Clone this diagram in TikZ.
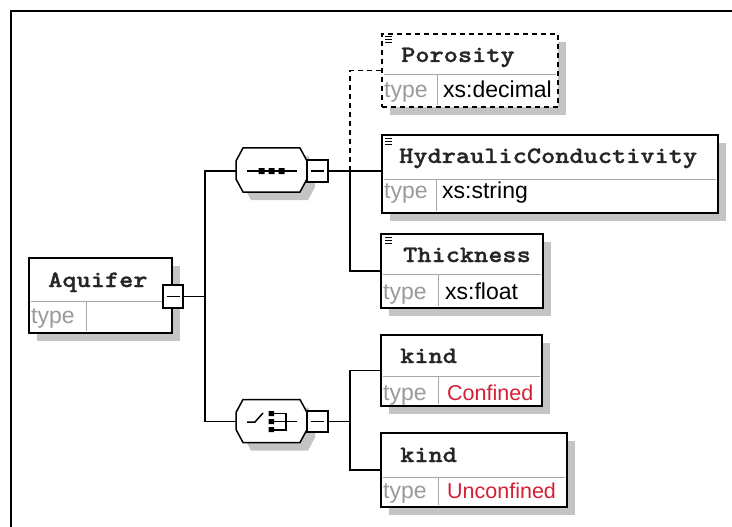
\documentclass[tikz,border=0pt]{standalone}
\usepackage{fontspec}
\setmainfont{Liberation Sans}
\newfontfamily\monof{lmmonolt10-bold.otf}[FakeStretch=1.15, FakeBold=1.2]
\usetikzlibrary{shadows}
\definecolor{shadowc}{HTML}{C4C4C4}
\definecolor{typec}{HTML}{9A9A9A}
\definecolor{divc}{HTML}{A8A8A8}
\definecolor{redc}{HTML}{D42036}
\tikzset{
 elem/.style={draw, line width=2.2pt, fill=white, inner sep=0pt, drop shadow={shadow xshift=8pt, shadow yshift=-8pt, opacity=1, fill=shadowc}},
 optelem/.style={elem, dash pattern=on 5pt off 4pt},
 hdr/.style={anchor=base west, inner sep=0pt, font=\monof\fontsize{23.5}{26}\selectfont, text=black!85},
 typ/.style={anchor=base west, inner sep=0pt, font=\fontsize{23}{25}\selectfont, text=typec},
 val/.style={typ, text=black},
 rval/.style={typ, font=\fontsize{21.5}{24}\selectfont, text=redc},
 divl/.style={draw=divc, line width=1pt},
 conn/.style={line width=1.7pt},
 minus/.style={draw, line width=1.5pt, fill=white, inner sep=0pt},
 comp/.style={draw=none, inner sep=0pt, minimum width=71pt, minimum height=44pt},
 iconl/.style={line width=0.8pt},
 octo/.style={line width=1.5pt, fill=white},
}
\begin{document}
\begin{tikzpicture}[x=1pt,y=-1pt]
\useasboundingbox (0,0) rectangle (732,527);
\fill[white] (0,0) rectangle (732,527);
% frame
\draw[line width=2.5pt] (11,530) -- (11,11) -- (735,11);

% ---------- element boxes ----------
\node[elem, minimum width=143pt, minimum height=75pt] (aq) at (100.5,295.5) {};
\node[optelem, minimum width=176pt, minimum height=73pt] (por) at (470,70.5) {};
\node[elem, minimum width=336pt, minimum height=78pt] (hyd) at (550,174) {};
\node[elem, minimum width=162pt, minimum height=74pt] (thk) at (462,271) {};
\node[elem, minimum width=161pt, minimum height=71pt] (kinda) at (461.5,370.5) {};
\node[elem, minimum width=186pt, minimum height=74pt] (kindb) at (474,470) {};

% dividers
\draw[divl] (31,301) -- (170,301) (86,301) -- (86,331);
\draw[divl] (384,75) -- (556,75) (437,75) -- (437,105);
\draw[divl] (384,179) -- (716,179) (436,179) -- (436,211);
\draw[divl] (383,274) -- (541,274) (438,274) -- (438,306);
\draw[divl] (383,376) -- (540,376) (438,376) -- (438,404);
\draw[divl] (383,477) -- (565,477) (438,477) -- (438,505);

% icons
\draw[iconl] (385,36.5) -- ++(7,0) (385,39.5) -- ++(7,0) (385,42.5) -- ++(7,0);
\draw[iconl] (385,138.5) -- ++(7,0) (385,141.5) -- ++(7,0) (385,144.5) -- ++(7,0);
\draw[iconl] (385,237.5) -- ++(7,0) (385,240.5) -- ++(7,0) (385,243.5) -- ++(7,0);

% texts
\node[hdr] (aqh) at (48,287) {Aquifer};
\node[typ] (aqt) at (31,323) {type};
\node[hdr] (porh) at (401,62) {Porosity};
\node[typ] (port) at (384,97.5) {type};
\node[val] (porv) at (443,97.5) {xs:decimal};
\node[hdr] (hydh) at (399,163) {HydraulicConductivity};
\node[typ] (hydt) at (384,198) {type};
\node[val] (hydv) at (442,198) {xs:string};
\node[hdr] (thkh) at (403,262) {Thickness};
\node[typ] (thkt) at (383,299) {type};
\node[val] (thkv) at (445,299) {xs:float};
\node[hdr] (kindah) at (400,363) {kind};
\node[typ] (kindat) at (383,400) {type};
\node[rval] (kindav) at (447,400) {Confined};
\node[hdr] (kindbh) at (400,462) {kind};
\node[typ] (kindbt) at (383,498.5) {type};
\node[rval] (kindbv) at (447,498.5) {Unconfined};

% ---------- compositors ----------
\node[comp] (seq) at (271.5,170) {};
\node[comp] (cho) at (271.5,421.5) {};
\fill[shadowc, shift={(244,156)}] (0,13) -- (7,0) -- (64,0) -- (71,13) -- (71,31) -- (64,44) -- (7,44) -- (0,31) -- cycle;
\draw[octo, shift={(236,148)}] (0,13) -- (7,0) -- (64,0) -- (71,13) -- (71,31) -- (64,44) -- (7,44) -- (0,31) -- cycle;
\fill[shadowc, shift={(244,407.5)}] (0,13) -- (7,0) -- (64,0) -- (71,13) -- (71,30) -- (64,43) -- (7,43) -- (0,30) -- cycle;
\draw[octo, shift={(236,399.5)}] (0,13) -- (7,0) -- (64,0) -- (71,13) -- (71,30) -- (64,43) -- (7,43) -- (0,30) -- cycle;
% sequence symbol
\draw[line width=1.5pt] (247,171) -- (297,171);
\fill (258.5,168) rectangle ++(6,6) (268.5,168) rectangle ++(6,6) (278.5,168) rectangle ++(6,6);
% choice symbol
\draw[line width=1.5pt] (247,422) -- (255,422) -- (263,413);
\fill (268.5,411) rectangle ++(5.5,5) (268.5,419) rectangle ++(5.5,5) (268.5,427) rectangle ++(5.5,5);
\draw[line width=1.5pt] (274,413.5) -- (286,413.5) -- (286,430) -- (274,430) (274,421.5) -- (297,421.5);

% minus boxes
\node[minus, minimum width=20pt, minimum height=23pt] (aqm) at (173,296.5) {};
\draw[line width=1.2pt] (166.5,296.5) -- (179.5,296.5);
\node[minus, minimum width=21pt, minimum height=22pt] (seqm) at (317.5,171) {};
\draw[line width=1.2pt] (311,171) -- (324,171);
\node[minus, minimum width=21pt, minimum height=21pt] (chom) at (317.5,421.5) {};
\draw[line width=1.2pt] (311,421.5) -- (324,421.5);

% ---------- connectors ----------
\coordinate (j1) at (205,296.5);
\coordinate (j2) at (350,171);
\coordinate (j3) at (350,421.5);
\draw[conn] (aqm.east) -- (j1);
\draw[conn] (seq.west |- seqm.west) -| (j1) |- (cho.west);
\draw[conn] (seqm.east) -- (seqm.east -| hyd.west);
\draw[conn] (j2) |- (thk.west);
\draw[conn, dash pattern=on 5pt off 4pt] (j2) |- (por.west);
\draw[conn] (chom.east) -- (j3);
\draw[conn] (kinda.west) -| (j3) |- (kindb.west);
\end{tikzpicture}
\end{document}
